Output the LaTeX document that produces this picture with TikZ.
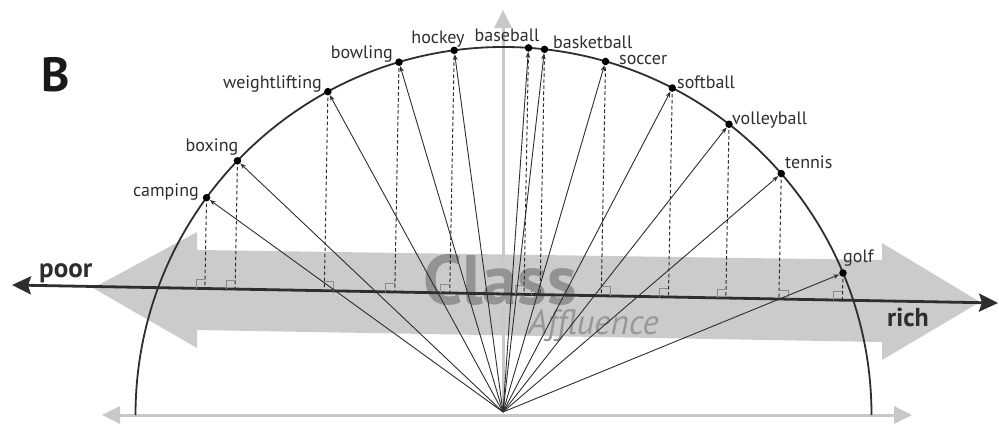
\documentclass[tikz,border=0pt]{standalone}
\usepackage{fontspec}
\setmainfont{PT Sans}
\usetikzlibrary{arrows.meta,calc}
\definecolor{ink}{HTML}{2E2E2E}
\definecolor{fatgray}{HTML}{CBCBCB}
\definecolor{lightax}{HTML}{C8C8C8}
\definecolor{classgray}{HTML}{939393}
\definecolor{markgray}{HTML}{8A8A8A}
\tikzset{
  dot/.style={circle,fill=black,inner sep=0pt,minimum size=7.5pt},
  vec/.style={draw=ink,line width=0.9pt,-{Stealth[length=6pt,width=4.5pt]}},
  proj/.style={draw=ink,line width=1pt,dash pattern=on 3.5pt off 2.5pt},
  rmark/.style={draw=markgray,line width=0.6pt},
  lbl/.style={inner sep=0pt,text=ink,font=\fontsize{18}{18}\selectfont},
  lightaxis/.style={draw=lightax,line width=3pt},
  darkaxis/.style={draw=ink,line width=2.8pt},
}
\begin{document}
\begin{tikzpicture}[x=1pt,y=1pt]
\useasboundingbox (0,0) rectangle (999,426);
% key coordinates
\coordinate (C) at (503.5,11);
\coordinate (O) at (503,14);
\coordinate (axL) at (12,141);
\coordinate (axR) at (998,123);
\coordinate (gL) at (102,11);
\coordinate (gR) at (912,11);
\coordinate (gT) at (503,416);
% fat double arrow
\fill[fatgray] (93,138) -- (197,194) -- (197,176) -- (882,166) -- (882,183)
  -- (980,124) -- (882,66) -- (882,84) -- (197,96) -- (197,78) -- cycle;
% light gray axes
\draw[lightaxis,{Triangle[length=18pt,width=17pt]}-{Triangle[length=18pt,width=17pt]}] (gL) -- (gR);
\draw[lightaxis,-{Triangle[length=18pt,width=17pt]}] (O) -- (gT);
\node[anchor=base,inner sep=0pt,text=classgray,font=\bfseries\fontsize{70}{70}\selectfont] (class) at (500,121) {Class};
\node[anchor=base west,inner sep=0pt,text=classgray!95!white,font=\itshape\fontsize{35}{35}\selectfont] (affl) at (528,92) {Affluence};
% dark axis
\draw[darkaxis,{Stealth[length=19pt,width=18pt,inset=3pt]}-{Stealth[length=19pt,width=18pt,inset=3pt]}] (axL) -- (axR);
% points
\foreach \n/\a in {camping/143.8,boxing/136.3,weightlifting/118.5,bowling/106.5,hockey/97.7,baseball/86.1,basketball/83.6,soccer/73.9,softball/62.7,volleyball/52.2,tennis/41.0,golf/22.7}{
  \coordinate (q\n) at ($(C)+(\a:368)$);
  \coordinate (f\n) at ($(axL)!(q\n)!(axR)$);
  \draw[proj] (q\n) -- (f\n);
}
% right-angle marks (left side)
\foreach \n in {camping,boxing,bowling,hockey,baseball,basketball,softball,volleyball,golf}{
  \draw[rmark] ($(f\n)+(-9,0)$) -- ++(0,9) -- ++(9,0);
}
% right-angle marks (right side)
\foreach \n in {weightlifting,soccer,tennis}{
  \draw[rmark] ($(f\n)+(9,0)$) -- ++(0,9) -- ++(-9,0);
}
% semicircle
\draw[ink,line width=1.8pt] (C) ++(180:368) arc[start angle=180,end angle=0,radius=368];
% dots and vectors
\foreach \n in {camping,boxing,weightlifting,bowling,hockey,baseball,basketball,soccer,softball,volleyball,tennis,golf}{
  \node[dot] (\n) at (q\n) {};
  \draw[vec] (O) -- (\n);
}
% labels
\node[lbl,anchor=base east] (lcamping) at (199,229) {camping};
\node[lbl,anchor=base] (lboxing) at (212,274) {boxing};
\node[lbl,anchor=base east] (lweight) at (322,337) {weightlifting};
\node[lbl,anchor=base east] (lbowling) at (393,367) {bowling};
\node[lbl,anchor=base] (lhockey) at (438,382) {hockey};
\node[lbl,anchor=base] (lbaseball) at (507,384) {baseball};
\node[lbl,anchor=base west] (lbasket) at (553,377) {basketball};
\node[lbl,anchor=base west] (lsoccer) at (619,361) {soccer};
\node[lbl,anchor=base west] (lsoftball) at (677,337) {softball};
\node[lbl,anchor=base west] (lvolley) at (732,301) {volleyball};
\node[lbl,anchor=base west] (ltennis) at (785,257) {tennis};
\node[lbl,anchor=base west] (lgolf) at (843,163) {golf};
\node[inner sep=0pt,anchor=base west,text=ink,font=\bfseries\fontsize{27}{27}\selectfont] (poor) at (39,148) {poor};
\node[inner sep=0pt,anchor=base west,text=ink,font=\bfseries\fontsize{26}{26}\selectfont] (rich) at (887,99) {rich};
\node[inner sep=0pt,anchor=base west,text=black!90,font=\bfseries\fontsize{48}{48}\selectfont] (B) at (41,334) {B};
\end{tikzpicture}
\end{document}
